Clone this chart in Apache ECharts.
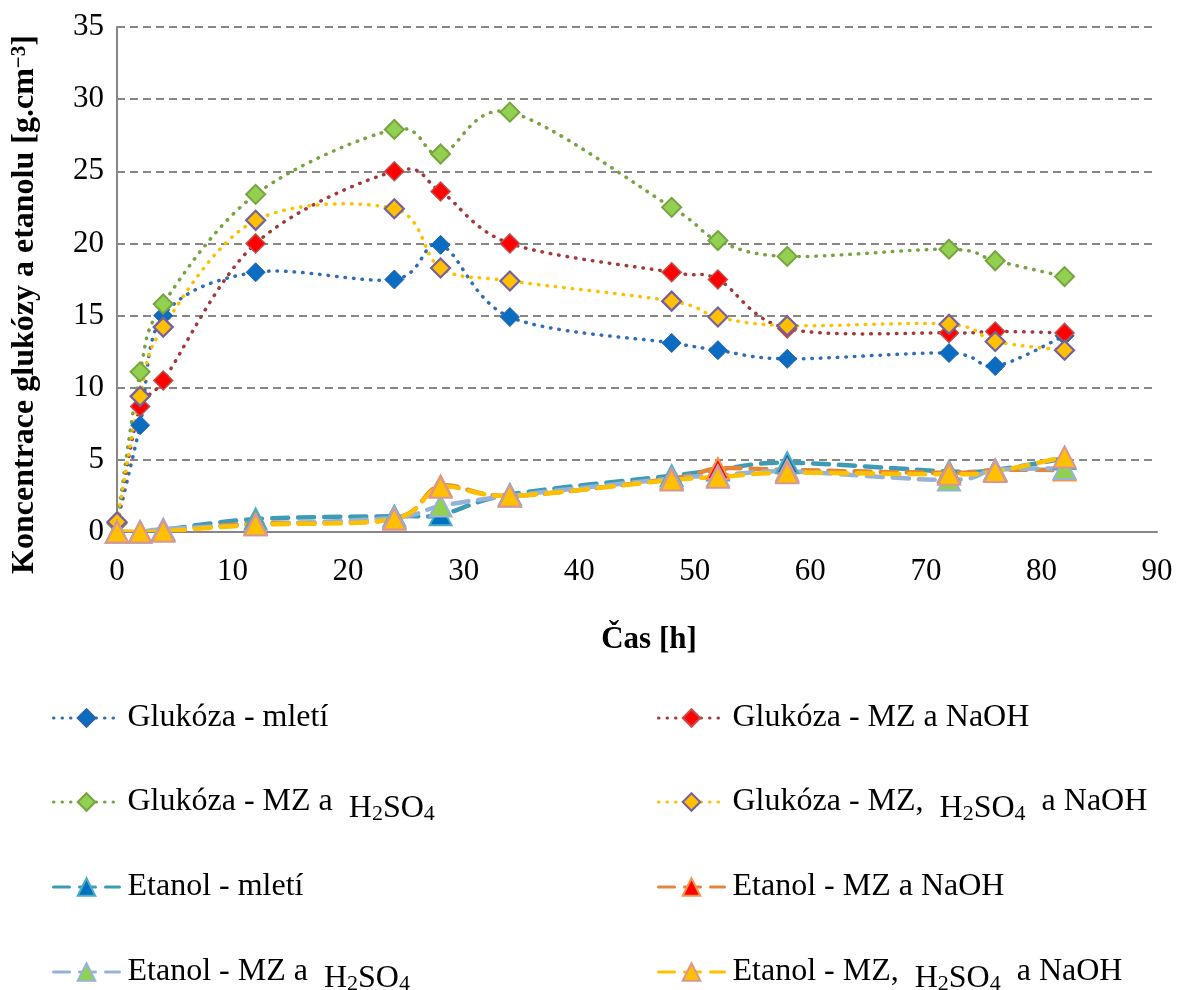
<!DOCTYPE html>
<html>
<head>
<meta charset="utf-8">
<title>Koncentrace glukózy a etanolu</title>
<script src="https://cdn.jsdelivr.net/npm/echarts@6/dist/echarts.min.js"></script>
<style>
  html, body { margin: 0; padding: 0; background: #fff; }
  #chart { width: 1183px; height: 990px; }
</style>
</head>
<body>
<div id="chart"></div>
<script>
// Sampling times [h]
const times = [0, 2, 4, 12, 24, 28, 34, 48, 52, 58, 72, 76, 82];

// Glucose concentrations
const glukozaMleti      = [0.6, 7.4, 15.0, 18.0, 17.5, 19.9, 14.9, 13.1, 12.6, 12.0, 12.4, 11.5, 13.6];
const glukozaNaOH       = [0.6, 8.7, 10.5, 20.0, 25.0, 23.6, 20.0, 18.0, 17.5, 14.1, 13.8, 13.9, 13.8];
const glukozaH2SO4      = [0.6, 11.1, 15.8, 23.4, 27.9, 26.2, 29.1, 22.5, 20.2, 19.1, 19.6, 18.8, 17.7];
const glukozaH2SO4NaOH  = [0.7, 9.4, 14.2, 21.6, 22.4, 18.3, 17.4, 16.0, 14.9, 14.3, 14.4, 13.2, 12.6];

// Ethanol concentrations
const etanolMleti       = [0, 0, 0.15, 0.9, 1.1, 1.2, 2.6, 3.9, 4.3, 4.8, 4.2, 4.3, 5.1];
const etanolNaOH        = [0, 0, 0.1, 0.6, 0.9, 3.2, 2.5, 3.7, 4.4, 4.3, 4.1, 4.3, 4.3];
const etanolH2SO4       = [0, 0, 0.2, 0.5, 1.0, 1.8, 2.5, 3.7, 3.9, 4.2, 3.6, 4.3, 4.4];
const etanolH2SO4NaOH   = [0, 0, 0.05, 0.5, 0.9, 3.1, 2.5, 3.6, 3.8, 4.1, 4.0, 4.2, 5.2];

// Axis ticks
const xTicks = { min: 0, max: 90, step: 10 };
const yTicks = { min: 0, max: 35, step: 5 };

const names = [
  'Glukóza - mletí',
  'Glukóza - MZ a NaOH',
  'Glukóza - MZ a H₂SO₄',
  'Glukóza - MZ, H₂SO₄ a NaOH',
  'Etanol - mletí',
  'Etanol - MZ a NaOH',
  'Etanol - MZ a H₂SO₄',
  'Etanol - MZ, H₂SO₄ a NaOH'
];

const FONT = "'Times New Roman', 'Liberation Serif', serif";
const DOTS = [0.5, 8];
const DASHES = [16, 10];

function pairs(ys) { return times.map((t, i) => [t, ys[i]]); }

// Smooth curve through the points (Catmull-Rom segments as cubic Béziers),
// positioned with the grid's own coordinate conversion.
function curve(ys, color, width, dash) {
  return {
    type: 'custom', silent: true, clip: true,
    data: [[times[0], ys[0]]],
    renderItem(params, api) {
      const p = times.map((t, i) => api.coord([t, ys[i]]));
      let d = 'M' + p[0][0] + ' ' + p[0][1];
      for (let i = 0; i < p.length - 1; i++) {
        const p0 = p[i - 1] || p[i], p1 = p[i], p2 = p[i + 1], p3 = p[i + 2] || p[i + 1];
        const c1x = p1[0] + (p2[0] - p0[0]) / 6, c1y = p1[1] + (p2[1] - p0[1]) / 6;
        const c2x = p2[0] - (p3[0] - p1[0]) / 6, c2y = p2[1] - (p3[1] - p1[1]) / 6;
        d += ' C' + c1x + ' ' + c1y + ' ' + c2x + ' ' + c2y + ' ' + p2[0] + ' ' + p2[1];
      }
      return {
        type: 'path',
        shape: { pathData: d },
        style: { fill: 'none', stroke: color, lineWidth: width, lineDash: dash, lineCap: 'round', lineJoin: 'round' }
      };
    }
  };
}

function markers(name, ys, line, dash, symbol, size, fill, border, bw) {
  return {
    name, type: 'line', data: pairs(ys),
    symbol, symbolSize: size, showAllSymbol: true,
    lineStyle: { color: line, width: 0, type: dash, cap: 'round' },
    itemStyle: { color: fill, borderColor: border, borderWidth: bw }
  };
}

const DIAMOND = 19;
const TRIANGLE = [22, 21];

const series = [
  curve(glukozaMleti, '#2F6DB5', 3.5, DOTS),
  markers(names[0], glukozaMleti, '#2F6DB5', DOTS, 'diamond', DIAMOND, '#0B6DC2', '#2563AC', 1),
  curve(glukozaNaOH, '#A3393A', 3.5, DOTS),
  markers(names[1], glukozaNaOH, '#A3393A', DOTS, 'diamond', DIAMOND, '#FF0000', '#C0504D', 1.5),
  curve(glukozaH2SO4, '#77A441', 3.5, DOTS),
  markers(names[2], glukozaH2SO4, '#77A441', DOTS, 'diamond', DIAMOND, '#92D050', '#77A441', 2),
  curve(glukozaH2SO4NaOH, '#FFC000', 3.5, DOTS),
  markers(names[3], glukozaH2SO4NaOH, '#FFC000', DOTS, 'diamond', DIAMOND, '#FFC000', '#7560A0', 2.2),
  curve(etanolMleti, '#3E9BB5', 4.5, DASHES),
  markers(names[4], etanolMleti, '#3E9BB5', DASHES, 'triangle', TRIANGLE, '#0070C0', '#4BACC6', 2),
  curve(etanolNaOH, '#E3853A', 4.5, DASHES),
  markers(names[5], etanolNaOH, '#E3853A', DASHES, 'triangle', TRIANGLE, '#FF0000', '#F79646', 2),
  curve(etanolH2SO4, '#95B3D7', 4.5, DASHES),
  markers(names[6], etanolH2SO4, '#95B3D7', DASHES, 'triangle', TRIANGLE, '#92D050', '#95B3D7', 2),
  curve(etanolH2SO4NaOH, '#FFC000', 4.5, DASHES),
  markers(names[7], etanolH2SO4NaOH, '#FFC000', DASHES, 'triangle', TRIANGLE, '#FFC000', '#D99694', 2)
];

// Legend text: chemical formula set slightly lower, with subscript digits
function legendText(name) {
  return name.replace('H₂SO₄', ' {f|H}{s|2}{f|SO}{s|4} ');
}
const legendRich = {
  f: { fontFamily: FONT, fontSize: 32, color: '#000', lineHeight: 32, padding: [14, 0, 0, 0], verticalAlign: 'bottom' },
  s: { fontFamily: FONT, fontSize: 22, color: '#000', lineHeight: 22, padding: [24, 0, 0, 0], verticalAlign: 'bottom' }
};

const legendCols = [52, 657];
const legendRows = [695, 779, 864, 949];
const legends = names.map((n, i) => ({
  data: [n],
  left: legendCols[i % 2],
  top: legendRows[Math.floor(i / 2)],
  orient: 'horizontal',
  padding: 0,
  itemWidth: 66,
  itemHeight: 22,
  selectedMode: false,
  formatter: legendText,
  lineStyle: { width: 3 },
  textStyle: {
    fontFamily: FONT, fontSize: 32, color: '#000', lineHeight: 46,
    padding: [0, 0, 0, 3], rich: legendRich
  }
}));

const chart = echarts.init(document.getElementById('chart'), null, { renderer: 'canvas' });
chart.setOption({
  animation: false,
  backgroundColor: '#fff',
  grid: { left: 117, right: 26, top: 27, bottom: 458, containLabel: false },
  legend: legends,
  xAxis: {
    type: 'value', min: xTicks.min, max: xTicks.max, interval: xTicks.step,
    name: 'Čas [h]', nameLocation: 'middle', nameGap: 92,
    nameTextStyle: { fontFamily: FONT, fontSize: 31, fontWeight: 'bold', color: '#000', padding: [0, 0, 0, 24] },
    axisLine: { lineStyle: { color: '#868686', width: 2 } },
    axisTick: { show: false },
    splitLine: { show: false },
    axisLabel: { fontFamily: FONT, fontSize: 31, color: '#000', margin: 24 }
  },
  yAxis: {
    type: 'value', min: yTicks.min, max: yTicks.max, interval: yTicks.step,
    name: 'Koncentrace glukózy a etanolu [g.cm{sup|−3}]', nameLocation: 'middle', nameGap: 76,
    nameTextStyle: {
      fontFamily: FONT, fontSize: 32, fontWeight: 'bold', color: '#000', padding: [0, 50, 0, 0],
      rich: { sup: { fontFamily: FONT, fontSize: 21, fontWeight: 'bold', color: '#000', verticalAlign: 'top', lineHeight: 32 } }
    },
    axisLine: { show: true, lineStyle: { color: '#868686', width: 2 } },
    axisTick: { show: false },
    splitLine: { show: true, lineStyle: { color: '#868686', width: 2, type: [8, 5] } },
    axisLabel: { fontFamily: FONT, fontSize: 31, color: '#000', margin: 13 }
  },
  series
});
</script>
</body>
</html>
